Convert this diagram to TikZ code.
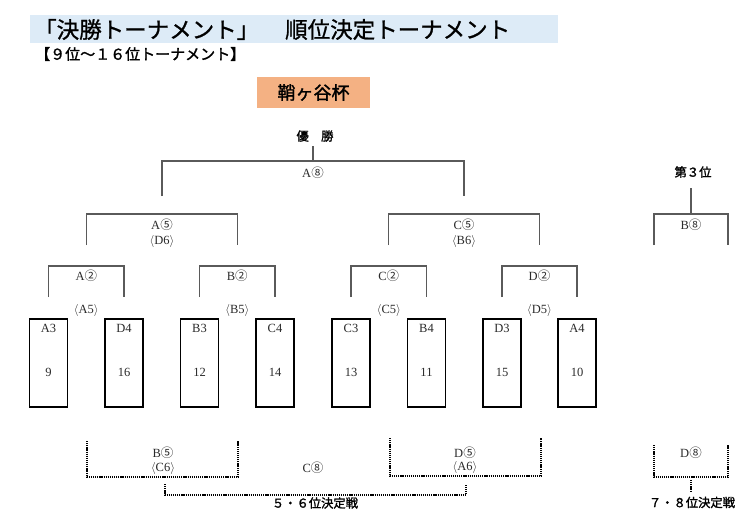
\documentclass[tikz,border=0pt]{standalone}
\usepackage{fontspec}
\setmainfont{Liberation Serif}
\newfontfamily\jp{Noto Sans CJK JP}
\newfontfamily\jpb[FakeBold=1.6]{Noto Sans CJK JP}
\newfontfamily\jpt[FakeBold=1]{Noto Sans CJK JP}
\newcommand\cd[1]{{\jp #1}}
\newcommand\ang[1]{$\langle$#1$\rangle$}
\definecolor{bandblue}{HTML}{DDEBF7}
\definecolor{cuporange}{HTML}{F4B183}
\definecolor{linegray}{HTML}{5A5A5A}
\definecolor{labgray}{HTML}{2A2A2A}
\newcommand\brk[6]{%
  \coordinate (#2L) at (#3,#6);
  \coordinate (#2R) at (#4,#6);
  \coordinate (#2M) at ({(#3+#4)/2},#5);
  \draw[#1] (#2L) |- (#2M) -| (#2R);}
\begin{document}
\begin{tikzpicture}[x=1pt,y=-1pt,
  solidline/.style={draw=linegray,line width=1.3pt},
  dotline/.style={draw=black,line width=1.9pt,dash pattern=on 1.2pt off 0.9pt},
  lab/.style={inner sep=0pt,text=labgray,font=\fontsize{12.5}{14}\selectfont},
  jlab/.style={inner sep=0pt,text=black,font=\jpb\fontsize{12.3}{14}\selectfont},
  entrybox/.style={draw=black,line width=1.5pt,minimum width=38pt,minimum height=88pt,inner sep=0pt}]
\useasboundingbox (0,0) rectangle (750,530);
% title band
\fill[bandblue] (30,15) rectangle (558,43);
\node[inner sep=0pt,anchor=west,font=\jpt\fontsize{22.5}{24}\selectfont] (title1) at (34,29.5) {「決勝トーナメント」};
\node[inner sep=0pt,anchor=west,font=\jpt\fontsize{22.5}{24}\selectfont] (title2) at (285,29.5) {順位決定トーナメント};
\node[inner sep=0pt,anchor=west,font=\jpb\fontsize{15}{16}\selectfont] (subtitle) at (35,54) {【９位～１６位トーナメント】};
% cup
\node[fill=cuporange,minimum width=113pt,minimum height=31pt,inner sep=0pt,font=\jpb\fontsize{18}{20}\selectfont] (cup) at (313.5,92.5) {鞘ヶ谷杯};
% boxes
\foreach \n/\x/\t/\s in {1/48.5/A3/9,2/124/D4/16,3/199.5/B3/12,4/275/C4/14,5/351/C3/13,6/426.5/B4/11,7/502/D3/15,8/577/A4/10}{
  \node[entrybox] (box\n) at (\x,363) {};
  \node[lab] (boxt\n) at (\x,328.5) {\t};
  \node[lab] (boxn\n) at (\x,372) {\s};
}
% round 1 brackets
\brk{solidline}{ra}{48.5}{124}{266}{297}
\brk{solidline}{rb}{199.5}{275}{266}{297}
\brk{solidline}{rc}{351}{426.5}{266}{297}
\brk{solidline}{rd}{502}{577}{266}{297}
\node[lab] (lA2) at (86.3,275.5) {A\cd{②}};
\node[lab] (lB2) at (237.3,275.5) {B\cd{②}};
\node[lab] (lC2) at (388.8,275.5) {C\cd{②}};
\node[lab] (lD2) at (539.5,275.5) {D\cd{②}};
\node[lab] (lA5) at (86.3,310) {\ang{A5}};
\node[lab] (lB5) at (237.3,310) {\ang{B5}};
\node[lab] (lC5) at (388.8,310) {\ang{C5}};
\node[lab] (lD5) at (539.5,310) {\ang{D5}};
% round 2
\brk{solidline}{sa}{86.3}{237.3}{214}{245}
\brk{solidline}{sb}{388.8}{539.5}{214}{245}
\node[lab] (lA5w) at (162,224.5) {A\cd{⑤}};
\node[lab] (lD6) at (162,241) {\ang{D6}};
\node[lab] (lC5w) at (464,224.5) {C\cd{⑤}};
\node[lab] (lB6) at (464,241) {\ang{B6}};
% final
\brk{solidline}{fa}{162}{464}{161}{196}
\node[jlab] (win) at (315,136) {優　勝};
\coordinate (winstem) at (313,146);
\draw[solidline] (winstem) -- (faM);
\node[lab] (lA8) at (313,172.5) {A\cd{⑧}};
% third place
\node[jlab] (third) at (693,172) {第３位};
\brk{solidline}{ta}{654}{728}{214}{245}
\coordinate (thirdstem) at (691,188);
\draw[solidline] (thirdstem) -- (taM);
\node[lab] (lB8) at (691,224.5) {B\cd{⑧}};
% consolation
\brk{dotline}{ca}{87}{238}{477}{441}
\brk{dotline}{cb}{390}{541}{476}{438}
\node[lab] (lB5w) at (163,452.5) {B\cd{⑤}};
\node[lab] (lC6) at (163,468) {\ang{C6}};
\node[lab] (lD5w) at (465,452.5) {D\cd{⑤}};
\node[lab] (lA6) at (465,467.5) {\ang{A6}};
\node[lab] (lC8) at (313,467.5) {C\cd{⑧}};
\brk{dotline}{cc}{165}{466}{495}{484}
\node[jlab] (fifth) at (315,503) {５・６位決定戦};
% 7-8
\brk{dotline}{da}{654}{728}{477}{445}
\node[lab] (lD8) at (691,452.5) {D\cd{⑧}};
\coordinate (dstem) at (691,491);
\draw[dotline] (daM) ++(0,3) -- (dstem);
\node[jlab] (seventh) at (692,502.5) {７・８位決定戦};
\end{tikzpicture}
\end{document}
